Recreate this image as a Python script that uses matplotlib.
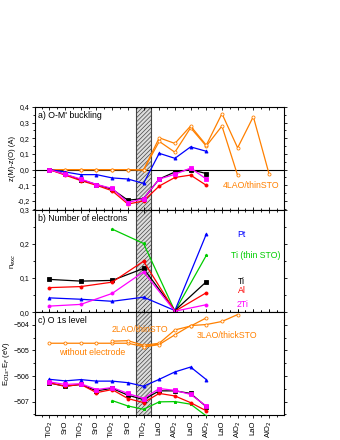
import numpy as np
import matplotlib
matplotlib.use('Agg')
import matplotlib.pyplot as plt
from matplotlib.ticker import MultipleLocator, FuncFormatter

# layer labels along x
layers = ['TiO$_2$', 'SrO', 'TiO$_2$', 'SrO', 'TiO$_2$', 'SrO', 'TiO$_2$',
          'LaO', 'AlO$_2$', 'LaO', 'AlO$_2$', 'LaO', 'AlO$_2$', 'LaO', 'AlO$_2$']

# ---- a) O-M buckling ----
a_idx = list(range(11))
a_ti = [0, -0.03, -0.065, -0.095, -0.125, -0.195, -0.185, -0.06, -0.015, 0.0, -0.025]
a_al = [0, -0.035, -0.07, -0.1, -0.135, -0.22, -0.2, -0.105, -0.05, -0.035, -0.1]
a_2ti = [0, -0.03, -0.06, -0.095, -0.12, -0.21, -0.185, -0.06, -0.03, 0.01, -0.06]
a_pt = [0, -0.015, -0.032, -0.032, -0.053, -0.06, -0.088, 0.104, 0.072, 0.145, 0.117]
a_or1_idx = list(range(15))
a_or1 = [0, 0, 0, 0, 0, 0, -0.003, 0.203, 0.167, 0.278, 0.156, 0.357, 0.139, 0.338, -0.026]
a_or2_idx = list(range(13))
a_or2 = [0, 0, 0, 0, 0, 0, -0.003, 0.18, 0.111, 0.267, 0.15, 0.278, -0.037]

# ---- b) number of electrons ----
b_idx = [0, 2, 4, 6, 8, 10]
b_ti = [0.096, 0.091, 0.093, 0.128, 0.005, 0.089]
b_al = [0.072, 0.075, 0.088, 0.149, 0.003, 0.057]
b_2ti = [0.018, 0.023, 0.055, 0.118, 0.003, 0.022]
b_pt = [0.042, 0.038, 0.032, 0.044, 0.005, 0.228]
b_thin_idx = [4, 6, 8, 10]
b_thin = [0.243, 0.201, 0.003, 0.166]

# ---- c) O 1s level ----
c_idx = list(range(11))
c_pt = [-506.13, -506.19, -506.14, -506.2, -506.2, -506.26, -506.4, -506.13, -505.84, -505.65, -506.14]
c_2ti = [-506.23, -506.33, -506.3, -506.53, -506.45, -506.68, -506.88, -506.49, -506.56, -506.72, -507.17]
c_ti = [-506.27, -506.4, -506.33, -506.58, -506.48, -506.75, -506.92, -506.58, -506.58, -506.68, -507.2]
c_al = [-506.27, -506.4, -506.33, -506.65, -506.53, -506.88, -507.04, -506.68, -506.78, -507.04, -507.36]
c_thin_idx = [4, 5, 6, 7, 8, 9, 10]
c_thin = [-506.96, -507.17, -507.3, -507.01, -507.0, -507.1, -507.56]
c_noel_idx = list(range(8))
c_noel = [-504.72, -504.72, -504.72, -504.72, -504.72, -504.72, -504.85, -504.75]
c_2lao_idx = [4, 5, 6, 7, 8, 9, 10]
c_2lao = [-504.64, -504.62, -504.8, -504.72, -504.2, -504.05, -503.73]
c_3lao_idx = [6, 7, 8, 9, 10, 11, 12]
c_3lao = [-504.87, -504.77, -504.39, -504.03, -503.99, -503.87, -503.6]

orange = '#ff8000'
green = '#00cc00'

plt.rcParams['font.family'] = ['Liberation Sans', 'DejaVu Sans']
plt.rcParams['hatch.color'] = '#666666'
plt.rcParams['hatch.linewidth'] = 0.5

fig = plt.figure(figsize=(3.4, 4.4), dpi=100)
gs = fig.add_gridspec(3, 1, left=0.103, right=0.835, top=0.757, bottom=0.057, hspace=0)
ax_a = fig.add_subplot(gs[0])
ax_b = fig.add_subplot(gs[1], sharex=ax_a)
ax_c = fig.add_subplot(gs[2], sharex=ax_a)

comma = FuncFormatter(lambda v, p: ('%.1f' % v).replace('.', ','))
ms = 2.2
lw = 0.9

def style(ax):
    ax.axvspan(5.55, 6.5, facecolor='#dddddd', edgecolor='#444444', hatch='////////', lw=0.8, zorder=0)
    ax.tick_params(axis='both', which='both', labelsize=5, width=0.6, pad=1.5)
    ax.tick_params(axis='y', which='major', direction='out', length=2.5, right=True)
    ax.tick_params(axis='y', which='minor', direction='out', length=1.5, right=True)
    ax.tick_params(axis='x', which='major', direction='in', length=2.5, top=True)
    ax.tick_params(axis='x', which='minor', direction='in', length=1.5, top=True)
    for s in ax.spines.values():
        s.set_linewidth(0.8)

def line(ax, x, y, c, m, mfc=None, z=3):
    ax.plot(x, y, color=c, marker=m, ms=ms, lw=lw, mfc=mfc if mfc else c, mec=c, mew=0.6, zorder=z)

# a
style(ax_a)
ax_a.axhline(0, color='black', lw=0.8, zorder=1)
line(ax_a, a_or2_idx, a_or2, orange, 'o', 'white')
line(ax_a, a_or1_idx, a_or1, orange, 'o', 'white')
line(ax_a, a_idx, a_pt, 'blue', '^')
line(ax_a, a_idx, a_ti, 'black', 's')
line(ax_a, a_idx, a_al, 'red', 'o')
line(ax_a, a_idx, a_2ti, 'magenta', 's')
ax_a.set_ylim(-0.255, 0.4)
ax_a.yaxis.set_major_locator(MultipleLocator(0.1))
ax_a.yaxis.set_minor_locator(MultipleLocator(0.05))
ax_a.yaxis.set_major_formatter(comma)
ax_a.set_ylabel('z(M)-z(O) (A)', fontsize=5.5, labelpad=1)
ax_a.text(0.01, 0.96, "a) O-M' buckling", transform=ax_a.transAxes, fontsize=6.3, va='top')
ax_a.text(11.05, -0.1, '4LAO/thinSTO', color=orange, fontsize=6.3, va='center')

# b
style(ax_b)
line(ax_b, b_thin_idx, b_thin, green, '*')
line(ax_b, b_idx, b_pt, 'blue', '^')
line(ax_b, b_idx, b_ti, 'black', 's')
line(ax_b, b_idx, b_al, 'red', 'o')
line(ax_b, b_idx, b_2ti, 'magenta', 'o')
ax_b.set_ylim(0, 0.3)
ax_b.yaxis.set_major_locator(MultipleLocator(0.1))
ax_b.yaxis.set_minor_locator(MultipleLocator(0.05))
ax_b.yaxis.set_major_formatter(comma)
ax_b.set_ylabel('n$_{exc}$', fontsize=5.5, labelpad=1)
ax_b.text(0.01, 0.96, 'b) Number of electrons', transform=ax_b.transAxes, fontsize=6.3, va='top')
ax_b.text(11.95, 0.228, 'Pt', color='blue', fontsize=6.3, va='center')
ax_b.text(11.6, 0.165, 'Ti (thin STO)', color=green, fontsize=6.3, va='center')
ax_b.text(12.0, 0.091, 'Ti', color='black', fontsize=6.3, va='center')
ax_b.text(12.0, 0.064, 'Al', color='red', fontsize=6.3, va='center')
ax_b.text(11.95, 0.022, '2Ti', color='magenta', fontsize=6.3, va='center')

# c
style(ax_c)
line(ax_c, c_noel_idx, c_noel, orange, 'o', 'white')
line(ax_c, c_2lao_idx, c_2lao, orange, 'o', 'white')
line(ax_c, c_3lao_idx, c_3lao, orange, 'o', 'white')
line(ax_c, c_idx, c_pt, 'blue', '^')
line(ax_c, c_thin_idx, c_thin, green, '*')
line(ax_c, c_idx, c_ti, 'black', 's')
line(ax_c, c_idx, c_al, 'red', 'o')
line(ax_c, c_idx, c_2ti, 'magenta', 's')
ax_c.set_ylim(-507.52, -503.51)
ax_c.yaxis.set_major_locator(MultipleLocator(1))
ax_c.yaxis.set_minor_locator(MultipleLocator(0.5))
ax_c.set_ylabel('E$_{O1s}$-E$_F$ (eV)', fontsize=5.5, labelpad=1)
ax_c.text(0.01, 0.96, 'c) O 1s level', transform=ax_c.transAxes, fontsize=6.3, va='top')
ax_c.text(3.97, -504.18, '2LAO/thinSTO', color=orange, fontsize=6.3, va='center')
ax_c.text(0.62, -505.1, 'without electrode', color=orange, fontsize=6.3, va='center')
ax_c.text(9.39, -504.42, '3LAO/thickSTO', color=orange, fontsize=6.3, va='center')

ax_c.set_xlim(-0.92, 14.95)
ax_c.set_xticks(range(len(layers)))
ax_c.set_xticklabels(layers, rotation=90, fontsize=5.5)
ax_c.xaxis.set_minor_locator(MultipleLocator(0.5))
ax_c.tick_params(axis='x', which='both', direction='out', bottom=True, top=True)
plt.setp(ax_a.get_xticklabels(), visible=False)
plt.setp(ax_b.get_xticklabels(), visible=False)

fig.savefig('out.png', dpi=100)
